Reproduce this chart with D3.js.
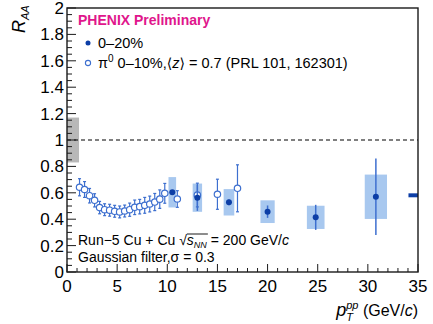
<!DOCTYPE html>
<html>
<head>
<meta charset="utf-8">
<script src="https://cdn.jsdelivr.net/npm/d3@7"></script>
<style>
  body { margin: 0; background: #fff; }
  svg { display: block; font-family: "Liberation Sans", Arial, sans-serif; }
</style>
</head>
<body>
<div id="graph"></div>
<script>
// pi0 0-10% (PRL 101, 162301), open circles
var piX = [1.25, 1.75, 2.25, 2.75, 3.25, 3.75, 4.25, 4.75, 5.25, 5.75, 6.25, 6.75, 7.25, 7.75, 8.25, 8.75, 9.25, 9.75, 11, 13, 15, 17];
var piY = [0.642, 0.625, 0.578, 0.543, 0.488, 0.472, 0.468, 0.46, 0.455, 0.462, 0.472, 0.49, 0.495, 0.505, 0.515, 0.53, 0.552, 0.596, 0.553, 0.583, 0.589, 0.634];
var piErr = [0.065, 0.06, 0.055, 0.05, 0.047, 0.045, 0.045, 0.045, 0.045, 0.045, 0.05, 0.055, 0.055, 0.06, 0.06, 0.065, 0.07, 0.075, 0.063, 0.09, 0.114, 0.178];

// Cu+Cu 0-20%, filled circles
var cuX = [10.5, 13.0, 16.15, 20.0, 24.8, 30.8];
var cuY = [0.604, 0.563, 0.528, 0.457, 0.414, 0.57];
var cuStat = [0.006, 0.10, 0.022, 0.047, 0.095, 0.29];
var cuSys = [0.115, 0.107, 0.10, 0.086, 0.088, 0.168];
var cuHalfW = [0.38, 0.47, 0.53, 0.71, 0.88, 1.11];

// global uncertainties
var normBox = { x0: 0, x1: 1.2, y0: 0.83, y1: 1.17 };
var scaleBar = { x0: 34.05, x1: 35, y0: 0.566, y1: 0.596 };

var xTicks = [0, 5, 10, 15, 20, 25, 30, 35];
var yTicks = [0, 0.2, 0.4, 0.6, 0.8, 1, 1.2, 1.4, 1.6, 1.8, 2];

var W = 433, H = 324;
var L = 67, R = 418, T = 8, B = 272;

var x = d3.scaleLinear().domain([0, 35]).range([L, R]);
var y = d3.scaleLinear().domain([0, 2]).range([B, T]);

var svg = d3.select("#graph").append("svg")
    .attr("width", W)
    .attr("height", H);

var boxCol = "#a8c8ef", darkBlue = "#0c3ea6", midBlue = "#3d6fcf";

// normalization box at 1
svg.append("rect")
    .attr("x", x(normBox.x0)).attr("width", x(normBox.x1) - x(normBox.x0))
    .attr("y", y(normBox.y1)).attr("height", y(normBox.y0) - y(normBox.y1))
    .attr("fill", "#b8b8b8");

// dashed line at 1
svg.append("line")
    .attr("x1", L).attr("x2", R).attr("y1", y(1)).attr("y2", y(1))
    .attr("stroke", "#000").attr("stroke-width", 1.2).attr("stroke-dasharray", "4,3");

// sys boxes
svg.selectAll(".sys")
    .data(cuX)
    .enter().append("rect")
    .attr("x", (d, i) => x(d - cuHalfW[i]))
    .attr("width", (d, i) => x(d + cuHalfW[i]) - x(d - cuHalfW[i]))
    .attr("y", (d, i) => y(cuY[i] + cuSys[i]))
    .attr("height", (d, i) => y(cuY[i] - cuSys[i]) - y(cuY[i] + cuSys[i]))
    .attr("fill", boxCol);

// scale uncertainty bar at right
svg.append("rect")
    .attr("x", x(scaleBar.x0)).attr("width", x(scaleBar.x1) - x(scaleBar.x0))
    .attr("y", y(scaleBar.y1)).attr("height", y(scaleBar.y0) - y(scaleBar.y1))
    .attr("fill", darkBlue);

// pi0 error bars
var pe = svg.append("g").attr("stroke", midBlue).attr("stroke-width", 1.2);
piX.forEach(function (d, i) {
    pe.append("line").attr("x1", x(d)).attr("x2", x(d))
        .attr("y1", y(piY[i] - piErr[i])).attr("y2", y(piY[i] + piErr[i]));
    [piY[i] - piErr[i], piY[i] + piErr[i]].forEach(function (v) {
        pe.append("line").attr("x1", x(d) - 1.5).attr("x2", x(d) + 1.5)
            .attr("y1", y(v)).attr("y2", y(v));
    });
});
svg.selectAll(".pi")
    .data(piX)
    .enter().append("circle")
    .attr("cx", d => x(d))
    .attr("cy", (d, i) => y(piY[i]))
    .attr("r", 3.2)
    .attr("fill", "#fff")
    .attr("stroke", midBlue)
    .attr("stroke-width", 1.2);

// Cu+Cu stat bars and points
svg.selectAll(".stat")
    .data(cuX)
    .enter().append("line")
    .attr("x1", d => x(d)).attr("x2", d => x(d))
    .attr("y1", (d, i) => y(cuY[i] - cuStat[i]))
    .attr("y2", (d, i) => y(cuY[i] + cuStat[i]))
    .attr("stroke", midBlue).attr("stroke-width", 1.5);
svg.selectAll(".cu")
    .data(cuX)
    .enter().append("circle")
    .attr("cx", d => x(d))
    .attr("cy", (d, i) => y(cuY[i]))
    .attr("r", 3)
    .attr("fill", darkBlue);

// frame
svg.append("rect")
    .attr("x", L).attr("y", T).attr("width", R - L).attr("height", B - T)
    .attr("fill", "none").attr("stroke", "#1a1a1a").attr("stroke-width", 1.4);

// ticks (inside)
var tk = svg.append("g").attr("stroke", "#1a1a1a").attr("stroke-width", 1);
d3.range(0, 2.001, 0.05).forEach(function (v, i) {
    var len = (i % 4 === 0) ? 9 : 5;
    tk.append("line").attr("x1", L).attr("x2", L + len).attr("y1", y(v)).attr("y2", y(v));
});
d3.range(0, 35.001, 1).forEach(function (v, i) {
    var len = (i % 5 === 0) ? 8 : 4;
    tk.append("line").attr("x1", x(v)).attr("x2", x(v)).attr("y1", B).attr("y2", B - len);
});

// tick labels
svg.selectAll(".yl")
    .data(yTicks)
    .enter().append("text")
    .attr("x", L - 3)
    .attr("y", d => y(d) + 6)
    .attr("text-anchor", "end")
    .attr("font-size", 17)
    .text(d => d === 0 ? "0" : d3.format("")(+d.toFixed(1)));
svg.selectAll(".xl")
    .data(xTicks)
    .enter().append("text")
    .attr("x", d => x(d))
    .attr("y", 292)
    .attr("text-anchor", "middle")
    .attr("font-size", 17)
    .text(d => d);

// lay out a sequence of text runs
function runs(x0, y0, parts, anchor) {
    var g = svg.append("g");
    var cx = x0, items = [];
    parts.forEach(function (p) {
        var t = g.append("text")
            .attr("x", cx)
            .attr("y", y0 + (p.dy || 0))
            .attr("font-size", p.size || 14)
            .attr("fill", p.fill || "#000")
            .attr("font-style", p.it ? "italic" : "normal")
            .attr("font-weight", p.bold ? "bold" : "normal")
            .style("white-space", "pre")
            .text(p.t);
        if (p.font) t.attr("font-family", p.font);
        var w = t.node().getComputedTextLength();
        items.push({ t: t, x: cx, w: w, p: p });
        if (!p.noAdvance) cx += w;
    });
    if (anchor === "end") {
        var shift = x0 - cx;
        items.forEach(it => { it.t.attr("x", it.x + shift); it.x += shift; });
    }
    return items;
}

// header and legend
runs(78, 25, [{ t: "PHENIX Preliminary", bold: true, size: 14, fill: "#e0168c" }]);
svg.append("circle").attr("cx", 88).attr("cy", 43).attr("r", 2.5).attr("fill", darkBlue);
runs(98, 48, [{ t: "0\u201320%", size: 14.5 }]);
svg.append("circle").attr("cx", 88).attr("cy", 63).attr("r", 2.6)
    .attr("fill", "#fff").attr("stroke", midBlue).attr("stroke-width", 1.1);
runs(98, 68, [
    { t: "\u03c0", size: 14.5 },
    { t: "0", size: 10, dy: -6 },
    { t: " 0\u201310%,", size: 14.5 },
    { t: "\u27e8", size: 14, font: "DejaVu Sans" },
    { t: "z", size: 14.5, it: true },
    { t: "\u27e9", size: 14, font: "DejaVu Sans" },
    { t: " = 0.7 (PRL 101, 162301)", size: 14.5 }
]);

// system text
var sysRuns = runs(78, 245, [
    { t: "Run\u22125 Cu + Cu ", size: 14 },
    { t: "\u221a", size: 14 },
    { t: "s", size: 14, it: true },
    { t: "NN", size: 9, it: true, dy: 2.5 },
    { t: " = 200 GeV/", size: 14 },
    { t: "c", size: 14, it: true }
]);
svg.append("line")
    .attr("x1", sysRuns[2].x).attr("x2", sysRuns[3].x + sysRuns[3].w + 1)
    .attr("y1", 234).attr("y2", 234)
    .attr("stroke", "#000").attr("stroke-width", 0.9);
runs(78, 262, [{ t: "Gaussian filter,\u03c3 = 0.3", size: 14 }]);

// y axis title
var yt = svg.append("text")
    .attr("transform", "translate(25,33) rotate(-90)")
    .attr("font-size", 18);
yt.append("tspan").attr("font-style", "italic").text("R");
yt.append("tspan").attr("font-style", "italic").attr("font-size", 11).attr("dy", 4).text("AA");

// x axis title
runs(418, 316, [
    { t: "p", size: 18, it: true },
    { t: "T", size: 11, it: true, dy: 5, noAdvance: true },
    { t: "pp", size: 11, it: true, dy: -7 },
    { t: " (GeV/", size: 16 },
    { t: "c", size: 16, it: true },
    { t: ")", size: 16 }
], "end");
</script>
</body>
</html>
